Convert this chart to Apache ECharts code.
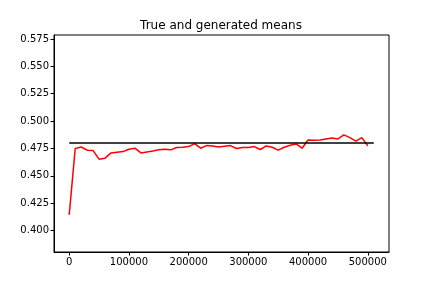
<!DOCTYPE html>
<html><head><meta charset="utf-8">
<script src="https://cdn.jsdelivr.net/npm/echarts@6/dist/echarts.min.js"></script>
<style>html,body{margin:0;padding:0;background:#fff}#c{width:432px;height:288px}</style>
</head><body><div id="c"></div>
<script>
const steps = [0,10000,20000,30000,40000,50000,60000,70000,80000,90000,100000,110000,120000,130000,140000,150000,160000,170000,180000,190000,200000,210000,220000,230000,240000,250000,260000,270000,280000,290000,300000,310000,320000,330000,340000,350000,360000,370000,380000,390000,400000,410000,420000,430000,440000,450000,460000,470000,480000,490000,500000];
const generatedMeans = [0.4143,0.4749,0.4763,0.4734,0.4730,0.4652,0.4661,0.4709,0.4715,0.4721,0.4743,0.4752,0.4709,0.4718,0.4727,0.4737,0.4743,0.4737,0.4758,0.4761,0.4767,0.4794,0.4752,0.4776,0.4773,0.4764,0.4770,0.4776,0.4749,0.4758,0.4758,0.4767,0.4740,0.4773,0.4761,0.4734,0.4761,0.4779,0.4791,0.4752,0.4828,0.4825,0.4828,0.4837,0.4846,0.4837,0.4874,0.4849,0.4816,0.4849,0.4773];
const trueMeanX = [0, 510000];
const trueMean = 0.48;
const xTicks = [0,100000,200000,300000,400000,500000];
const yTicks = [0.400,0.425,0.450,0.475,0.500,0.525,0.550,0.575];

const font = 'DejaVu Sans';
const chart = echarts.init(document.getElementById('c'), null, {renderer:'canvas'});
chart.setOption({
  animation:false,
  backgroundColor:'#fff',
  title:{text:'True and generated means',left:216,textAlign:'center',top:15,
    textStyle:{fontFamily:font,fontSize:12,fontWeight:'normal',color:'#000'}},
  grid:{left:54,right:43,top:35,bottom:36,show:true,borderColor:'#000',borderWidth:1,backgroundColor:'transparent'},
  xAxis:{type:'value',min:-25500,max:535500,
    splitLine:{show:false},
    axisLine:{show:true,onZero:false,lineStyle:{color:'#000',width:1}},
    axisTick:{show:true,length:3.5,lineStyle:{color:'#000'},customValues:xTicks},
    axisLabel:{customValues:xTicks,fontFamily:font,fontSize:10,color:'#000',margin:5,formatter:v=>String(v)}},
  yAxis:{type:'value',min:0.3803,max:0.5787,
    splitLine:{show:false},
    axisLine:{show:true,onZero:false,lineStyle:{color:'#000',width:1}},
    axisTick:{show:true,length:3.5,lineStyle:{color:'#000'},customValues:yTicks},
    axisLabel:{customValues:yTicks,fontFamily:font,fontSize:10,color:'#000',margin:5,formatter:v=>v.toFixed(3)}},
  series:[
    {type:'line',data:steps.map((s,i)=>[s,generatedMeans[i]]),showSymbol:false,
      lineStyle:{color:'#ff0000',width:1.5},z:2},
    {type:'line',data:trueMeanX.map(x=>[x,trueMean]),showSymbol:false,
      lineStyle:{color:'#000',width:1.5},z:3}
  ]
});
</script></body></html>
